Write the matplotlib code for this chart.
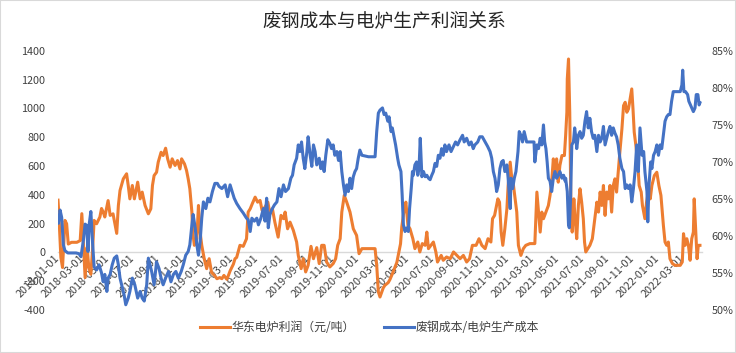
import pandas as pd
import matplotlib
matplotlib.use("Agg")
import matplotlib.pyplot as plt
import matplotlib.dates as mdates
from matplotlib.ticker import MultipleLocator, FuncFormatter
from matplotlib.patches import Rectangle

plt.rcParams['font.family'] = ['Noto Sans CJK SC', 'DejaVu Sans']
plt.rcParams['axes.unicode_minus'] = False

START = pd.Timestamp("2018-01-01")

title = "废钢成本与电炉生产利润关系"
profit_label = "华东电炉利润（元/吨）"
ratio_label = "废钢成本/电炉生产成本"
tick_dates = pd.date_range("2018-01-01", "2022-03-01", freq="2MS")

# 华东电炉利润 (元/吨), days counted from 2018-01-01
profit_days = [
    0, 2, 7, 11, 17, 21, 25, 33, 46, 54,
    58, 62, 66, 71, 75, 80, 84, 88, 94, 102,
    106, 110, 114, 122, 127, 134, 143, 147, 151, 156,
    159, 167, 171, 175, 181, 186, 194, 200, 205, 212,
    220, 226, 230, 234, 240, 244, 251, 256, 262, 267,
    273, 278, 285, 291, 297, 301, 308, 313, 317, 321,
    326, 328, 332, 338, 342, 346, 350, 356, 362, 368,
    374, 381, 387, 394, 399, 404, 411, 415, 419, 427,
    431, 435, 443, 451, 459, 463, 468, 473, 480, 486,
    492, 497, 504, 511, 516, 522, 528, 536, 543, 549,
    553, 559, 565, 573, 581, 585, 592, 597, 603, 609,
    616, 622, 630, 636, 642, 648, 654, 662, 670, 676,
    681, 687, 691, 697, 703, 711, 719, 727, 733, 740,
    756, 772, 776, 780, 784, 792, 796, 804, 808, 816,
    825, 830, 834, 837, 843, 847, 852, 857, 864, 869,
    876, 881, 887, 894, 898, 902, 908, 914, 920, 924,
    933, 938, 946, 955, 963, 971, 979, 987, 995, 1002,
    1009, 1018, 1025, 1032, 1040, 1047, 1054, 1058, 1063, 1071,
    1075, 1079, 1083, 1088, 1093, 1096, 1101, 1105, 1109, 1113,
    1117, 1121, 1127, 1133, 1139, 1149, 1161, 1166, 1170, 1174,
    1178, 1182, 1188, 1194, 1198, 1202, 1206, 1210, 1214, 1218,
    1222, 1227, 1233, 1236, 1239, 1240, 1243, 1246, 1249, 1252,
    1256, 1259, 1263, 1267, 1271, 1275, 1279, 1282, 1285, 1290,
    1295, 1301, 1306, 1312, 1316, 1320, 1324, 1328, 1332, 1336,
    1340, 1344, 1348, 1352, 1356, 1360, 1364, 1368, 1373, 1377,
    1381, 1385, 1389, 1393, 1397, 1400, 1403, 1407, 1412, 1415,
    1420, 1423, 1429, 1433, 1437, 1442, 1446, 1452, 1458, 1463,
    1468, 1474, 1478, 1482, 1486, 1490, 1496, 1502, 1515, 1520,
    1523, 1527, 1531, 1535, 1539, 1543, 1547, 1549, 1553, 1556,
    1559, 1563,
]
profit_vals = [
    363, 270, -35, -105, 222, 199, 58, 70, 70, 82,
    269, 58, -175, 35, -105, -152, 12, 222, 199, 246,
    305, 281, 246, 360, 257, 268, 132, 326, 430, 480,
    511, 546, 465, 372, 465, 372, 488, 372, 419, 326,
    268, 303, 465, 534, 557, 627, 696, 673, 724, 650,
    592, 650, 604, 638, 580, 650, 615, 569, 511, 442,
    280, 141, 49, 95, 326, 141, 49, -44, -113, -44,
    -140, -160, -183, -175, -183, -160, -187, -160, -129, -82,
    -44, -35, 49, 42, 95, 280, 303, 338, 384, 349,
    361, 291, 315, 349, 268, 303, 210, 106, 257, 234,
    280, 164, 210, 153, 72, -21, -113, -44, -136, -90,
    42, -44, 33, -78, 49, 49, -67, -101, -78, -44,
    49, 95, 280, 396, 349, 280, 164, 118, -9, 26,
    26, 26, -90, -275, -310, -246, -229, -210, -190, -136,
    -70, 3, 60, 176, 303, 349, 187, 164, 95, 26,
    72, 3, 61, 49, 141, 26, 49, 72, 3, -67,
    -21, -55, -32, -44, 3, -21, -44, -21, -67, -44,
    49, 49, 95, 49, 26, 95, 72, 234, 257, 372,
    349, 141, 49, 164, 303, 465, 627, 511, 465, 372,
    280, 49, -21, 26, 49, 61, 61, 419, 280, 141,
    280, 234, 280, 326, 396, 488, 650, 557, 650, 488,
    604, 673, 673, 812, 974, 1205, 1344, 974, 280, 141,
    372, 234, 95, 326, 442, 349, 234, 72, 3, 26,
    49, 95, 210, 349, 280, 419, 326, 465, 257, 419,
    372, 465, 280, 465, 511, 419, 557, 696, 858, 1020,
    1043, 974, 997, 1066, 1136, 997, 835, 743, 604, 465,
    419, 326, 234, 349, 419, 372, 465, 534, 557, 465,
    396, 187, 72, 49, 72, -44, -78, -90, -90, -67,
    130, 49, 95, 49, -55, 95, 141, 372, 141, -44,
    49, 49,
]

# 废钢成本/电炉生产成本 (%), days counted from 2018-01-01
ratio_days = [
    0, 1, 5, 9, 13, 17, 24, 34, 44, 51,
    56, 62, 66, 70, 73, 76, 80, 84, 88, 94,
    100, 106, 110, 114, 119, 122, 127, 132, 137, 143,
    147, 151, 155, 161, 165, 171, 175, 181, 187, 194,
    200, 205, 210, 216, 220, 224, 228, 234, 240, 246,
    251, 256, 262, 269, 275, 281, 287, 293, 300, 305,
    311, 317, 321, 326, 329, 334, 338, 342, 346, 350,
    354, 360, 365, 370, 376, 382, 388, 392, 399, 407,
    413, 419, 424, 429, 435, 443, 451, 459, 463, 468,
    472, 478, 484, 488, 494, 500, 504, 508, 512, 516,
    520, 527, 533, 538, 543, 549, 554, 561, 567, 571,
    575, 581, 585, 589, 593, 597, 601, 606, 609, 614,
    618, 622, 626, 630, 636, 640, 644, 648, 652, 657,
    662, 666, 670, 674, 679, 683, 687, 691, 695, 699,
    703, 707, 711, 715, 719, 723, 727, 731, 735, 740,
    756, 772, 776, 780, 784, 790, 794, 798, 803, 806,
    811, 814, 819, 822, 827, 830, 835, 838, 841, 845,
    849, 853, 856, 860, 863, 865, 869, 873, 876, 879,
    882, 886, 890, 894, 898, 902, 906, 910, 914, 918,
    922, 926, 930, 934, 938, 942, 946, 952, 957, 963,
    968, 973, 979, 985, 989, 995, 1001, 1006, 1011, 1015,
    1022, 1027, 1033, 1040, 1046, 1052, 1056, 1060, 1064, 1068,
    1072, 1076, 1080, 1084, 1088, 1093, 1096, 1101, 1103, 1107,
    1111, 1115, 1120, 1123, 1127, 1131, 1135, 1141, 1145, 1153,
    1159, 1161, 1166, 1170, 1174, 1178, 1182, 1185, 1188, 1191,
    1194, 1198, 1202, 1206, 1210, 1214, 1218, 1222, 1227, 1231,
    1235, 1236, 1240, 1243, 1245, 1248, 1251, 1255, 1258, 1261,
    1263, 1267, 1271, 1275, 1279, 1283, 1287, 1291, 1295, 1299,
    1303, 1307, 1312, 1316, 1320, 1324, 1328, 1332, 1336, 1340,
    1344, 1348, 1352, 1356, 1360, 1364, 1368, 1373, 1377, 1381,
    1385, 1389, 1393, 1397, 1401, 1405, 1409, 1413, 1417, 1422,
    1426, 1429, 1434, 1436, 1439, 1443, 1446, 1450, 1454, 1458,
    1462, 1466, 1470, 1474, 1478, 1482, 1486, 1490, 1494, 1498,
    1507, 1515, 1519, 1521, 1524, 1528, 1533, 1536, 1540, 1543,
    1547, 1551, 1554, 1558, 1561, 1563,
]
ratio_vals = [
    62.0, 61.7, 63.5, 62.5, 58.8, 58.0, 57.7, 57.7, 57.7, 57.6,
    57.2, 59.5, 61.6, 61.4, 57.9, 61.6, 63.3, 59.2, 55.8, 55.4,
    56.1, 55.0, 53.8, 54.8, 52.5, 54.3, 54.8, 56.1, 57.0, 57.3,
    56.1, 54.3, 53.4, 52.0, 50.7, 51.6, 52.5, 54.3, 53.4, 51.6,
    52.5, 51.6, 51.2, 53.4, 57.0, 56.1, 55.2, 53.4, 56.5, 55.6,
    54.3, 53.4, 54.3, 55.2, 53.8, 54.8, 55.2, 54.3, 55.2, 56.1,
    57.4, 57.9, 58.8, 61.5, 62.9, 61.1, 58.8, 57.4, 59.2, 62.4,
    64.6, 63.7, 65.1, 64.6, 66.0, 67.1, 67.1, 66.7, 66.4, 66.9,
    65.3, 66.9, 66.0, 65.1, 64.4, 63.7, 63.1, 62.4, 62.2, 60.6,
    62.4, 62.0, 62.4, 61.5, 62.4, 63.7, 62.0, 65.1, 61.1, 62.9,
    63.5, 64.2, 64.6, 66.4, 65.3, 66.9, 66.0, 66.4, 67.8, 68.2,
    69.6, 70.5, 72.3, 71.4, 72.7, 70.5, 69.1, 71.4, 73.4, 70.9,
    69.4, 72.3, 71.4, 69.6, 70.5, 69.1, 70.0, 68.7, 70.9, 73.0,
    72.5, 71.8, 72.3, 70.9, 71.4, 70.2, 71.4, 68.7, 66.9, 65.5,
    66.9, 66.0, 67.8, 66.4, 68.0, 68.7, 69.1, 70.5, 71.6, 70.9,
    70.7, 70.7, 74.1, 76.6, 77.0, 77.3, 76.4, 76.6, 75.5, 76.1,
    74.1, 74.6, 73.2, 72.3, 70.5, 69.6, 68.7, 65.5, 61.5, 60.6,
    61.1, 60.6, 63.7, 66.4, 68.7, 68.2, 69.6, 70.0, 68.2, 69.1,
    73.2, 68.0, 68.7, 68.0, 68.2, 67.8, 67.6, 68.2, 68.7, 69.8,
    69.4, 70.9, 70.5, 71.8, 70.9, 72.3, 71.4, 72.3, 71.4, 72.1,
    72.7, 72.3, 73.0, 73.6, 72.7, 73.2, 72.3, 72.7, 71.8, 72.3,
    72.7, 73.4, 73.4, 72.7, 72.1, 71.4, 70.5, 68.7, 67.8, 66.0,
    66.9, 69.1, 70.0, 70.2, 68.7, 69.6, 67.8, 63.7, 67.8, 66.4,
    67.8, 68.7, 71.4, 74.1, 73.6, 72.7, 74.1, 72.7, 72.7, 72.7,
    72.7, 70.0, 72.3, 71.8, 73.2, 72.3, 75.0, 72.7, 71.8, 70.0,
    67.8, 67.4, 66.0, 67.8, 68.7, 67.8, 68.2, 68.7, 67.8, 68.2,
    67.4, 67.8, 66.0, 61.5, 61.1, 65.1, 72.3, 72.7, 74.6, 73.2,
    71.8, 73.6, 74.1, 73.2, 73.6, 75.5, 76.8, 74.6, 75.9, 74.1,
    73.2, 73.6, 71.4, 73.6, 72.7, 73.2, 74.8, 72.3, 73.2, 74.1,
    74.8, 73.6, 74.6, 73.9, 73.4, 72.3, 70.5, 69.1, 68.7, 66.4,
    66.9, 66.4, 66.9, 64.6, 66.4, 68.7, 72.3, 68.7, 74.6, 70.9,
    71.4, 68.7, 66.0, 61.9, 66.9, 70.0, 69.1, 70.9, 71.4, 72.3,
    70.9, 72.3, 71.8, 73.6, 75.5, 76.1, 76.4, 76.4, 78.2, 79.5,
    79.5, 79.5, 80.4, 82.4, 79.5, 79.5, 79.1, 78.2, 77.7, 77.3,
    76.8, 77.3, 79.1, 79.1, 77.7, 78.0,
]

profit_dates = START + pd.to_timedelta(profit_days, unit="D")
ratio_dates = START + pd.to_timedelta(ratio_days, unit="D")

ORANGE = "#ED7D31"
BLUE = "#4472C4"
TXT = "#404040"

fig = plt.figure(figsize=(7.36, 3.53), dpi=100)
ax = fig.add_axes([0.0788, 0.122, 0.875, 0.7337])

l1, = ax.plot(profit_dates, profit_vals, color=ORANGE, lw=2.2,
              solid_joinstyle="round", label=profit_label)
ax.set_ylim(-400, 1400)
ax.yaxis.set_major_locator(MultipleLocator(200))
ax.set_xlim(START, START + pd.Timedelta(days=1568))
ax.set_xticks(tick_dates)
ax.xaxis.set_major_formatter(mdates.DateFormatter("%Y-%m-%d"))

for s in ax.spines.values():
    s.set_visible(False)
ax.spines["bottom"].set_visible(True)
ax.spines["bottom"].set_position(("data", 0))
ax.spines["bottom"].set_color("#d9d9d9")
ax.spines["bottom"].set_linewidth(1.0)
ax.spines["bottom"].set_zorder(0.5)

ax.tick_params(axis="x", length=0, pad=3, labelsize=7.8, labelcolor=TXT)
ax.tick_params(axis="y", length=0, pad=9, labelsize=7.8, labelcolor=TXT)
plt.setp(ax.get_xticklabels(), rotation=45, ha="right", va="center",
         rotation_mode="anchor")

ax2 = ax.twinx()
l2, = ax2.plot(ratio_dates, ratio_vals, color=BLUE, lw=2.2,
               solid_joinstyle="round", label=ratio_label)
ax2.set_ylim(50, 85)
ax2.yaxis.set_major_locator(MultipleLocator(5))
ax2.yaxis.set_major_formatter(FuncFormatter(lambda v, p: f"{v:.0f}%"))
ax2.tick_params(axis="y", length=0, pad=7, labelsize=7.8, labelcolor=TXT)
for s in ax2.spines.values():
    s.set_visible(False)

fig.text(0.522, 0.938, title, ha="center", va="center", fontsize=13.5,
         color="#262626")

fig.legend(handles=[l1, l2], loc="center", bbox_to_anchor=(0.502, 0.071),
           ncol=2, frameon=False, fontsize=8.6, handlelength=2.5,
           handletextpad=0.15, columnspacing=2.4, labelcolor=TXT)

fig.patches.append(Rectangle((0, 0), 1, 1, transform=fig.transFigure,
                             fill=False, edgecolor="#d9d9d9", lw=1.5))

fig.savefig("out.png", dpi=100)
